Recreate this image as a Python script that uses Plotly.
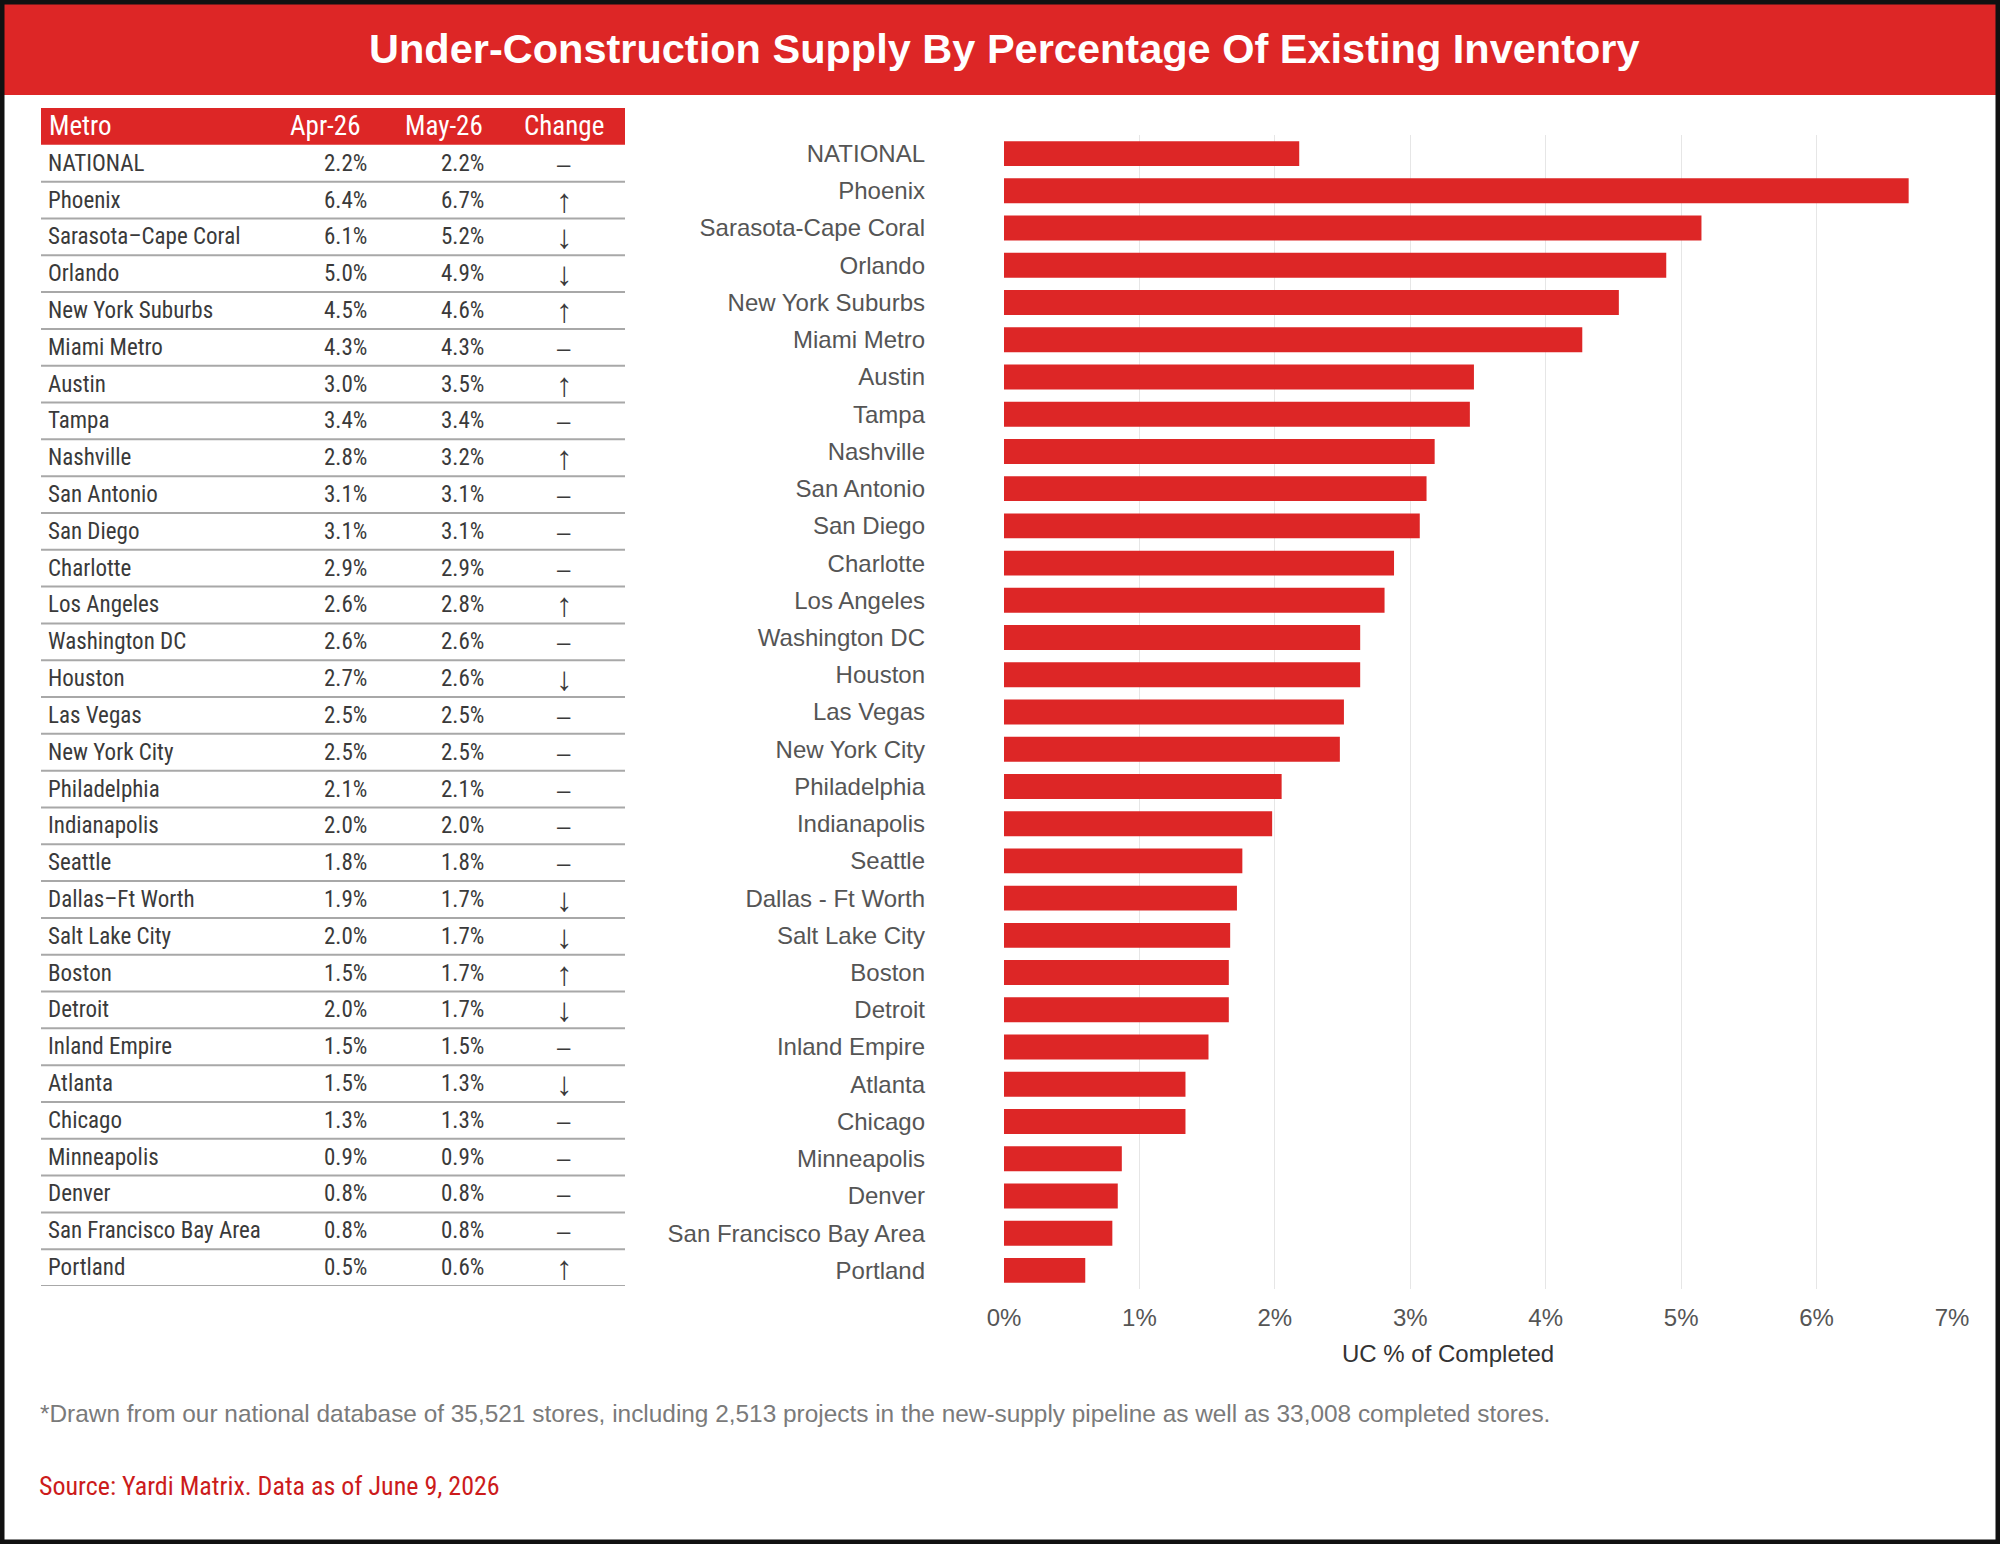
import plotly.graph_objects as go

W, H = 2000, 1544

# ---------------- data ----------------
table_metros = ["NATIONAL", "Phoenix", "Sarasota–Cape Coral", "Orlando", "New York Suburbs",
                "Miami Metro", "Austin", "Tampa", "Nashville", "San Antonio", "San Diego",
                "Charlotte", "Los Angeles", "Washington DC", "Houston", "Las Vegas",
                "New York City", "Philadelphia", "Indianapolis", "Seattle", "Dallas–Ft Worth",
                "Salt Lake City", "Boston", "Detroit", "Inland Empire", "Atlanta", "Chicago",
                "Minneapolis", "Denver", "San Francisco Bay Area", "Portland"]
apr_26 = ["2.2%", "6.4%", "6.1%", "5.0%", "4.5%", "4.3%", "3.0%", "3.4%", "2.8%", "3.1%",
          "3.1%", "2.9%", "2.6%", "2.6%", "2.7%", "2.5%", "2.5%", "2.1%", "2.0%", "1.8%",
          "1.9%", "2.0%", "1.5%", "2.0%", "1.5%", "1.5%", "1.3%", "0.9%", "0.8%", "0.8%", "0.5%"]
may_26 = ["2.2%", "6.7%", "5.2%", "4.9%", "4.6%", "4.3%", "3.5%", "3.4%", "3.2%", "3.1%",
          "3.1%", "2.9%", "2.8%", "2.6%", "2.6%", "2.5%", "2.5%", "2.1%", "2.0%", "1.8%",
          "1.7%", "1.7%", "1.7%", "1.7%", "1.5%", "1.3%", "1.3%", "0.9%", "0.8%", "0.8%", "0.6%"]
change = ["–", "↑", "↓", "↓", "↑", "–", "↑", "–", "↑", "–", "–", "–", "↑", "–", "↓", "–",
          "–", "–", "–", "–", "↓", "↓", "↑", "↓", "–", "↓", "–", "–", "–", "–", "↑"]
table_header = ["Metro", "Apr-26", "May-26", "Change"]

bar_labels = ["NATIONAL", "Phoenix", "Sarasota-Cape Coral", "Orlando", "New York Suburbs",
              "Miami Metro", "Austin", "Tampa", "Nashville", "San Antonio", "San Diego",
              "Charlotte", "Los Angeles", "Washington DC", "Houston", "Las Vegas",
              "New York City", "Philadelphia", "Indianapolis", "Seattle", "Dallas - Ft Worth",
              "Salt Lake City", "Boston", "Detroit", "Inland Empire", "Atlanta", "Chicago",
              "Minneapolis", "Denver", "San Francisco Bay Area", "Portland"]
bar_values = [2.18, 6.68, 5.15, 4.89, 4.54, 4.27, 3.47, 3.44, 3.18, 3.12, 3.07, 2.88, 2.81,
              2.63, 2.63, 2.51, 2.48, 2.05, 1.98, 1.76, 1.72, 1.67, 1.66, 1.66, 1.51, 1.34,
              1.34, 0.87, 0.84, 0.80, 0.60]
x_tick_vals = [0, 1, 2, 3, 4, 5, 6, 7]
x_tick_text = ["0%", "1%", "2%", "3%", "4%", "5%", "6%", "7%"]

title_text = "Under-Construction Supply By Percentage Of Existing Inventory"
x_title = "UC % of Completed"
footnote = ("*Drawn from our national database of 35,521 stores, including 2,513 projects "
            "in the new-supply pipeline as well as 33,008 completed stores.")
source = "Source: Yardi Matrix. Data as of June 9, 2026"

# ---------------- style ----------------
RED = "#dd2626"
SRC_RED = "#cc1b1b"
TXT = "#3a3a3a"
LBL = "#555555"
ARIAL = "Liberation Sans, Arial, sans-serif"
NARROW = ("Roboto Condensed, Noto Sans Condensed, Open Sans Condensed, "
          "DejaVu Sans Condensed, Liberation Sans Narrow, Roboto, sans-serif")


def px(x):
    return x / W


def py(y):
    return 1 - y / H


fig = go.Figure()

# ---------------- bar chart ----------------
fig.add_trace(go.Bar(
    x=bar_values, y=bar_labels, orientation="h",
    marker=dict(color=RED, line=dict(width=0)),
    hoverinfo="skip", showlegend=False, xaxis="x", yaxis="y",
))

# ---------------- table (annotations on its own axes) ----------------
n = len(table_metros)
fig.add_trace(go.Scatter(x=[41, 625], y=[-1.5, n - 0.5], mode="markers",
                         marker=dict(opacity=0, size=1), hoverinfo="skip", showlegend=False,
                         xaxis="x2", yaxis="y2"))

annotations = []
shapes = []

COL_METRO, COL_APR, COL_MAY, COL_CHG = 46, 369, 486, 564
HDR_APR, HDR_MAY = 325, 444

shapes.append(dict(type="rect", xref="x2", yref="y2", x0=41, x1=625, y0=-1.5, y1=-0.5,
                   fillcolor=RED, line=dict(width=0), layer="below"))
hdr_font = dict(family=NARROW, size=27, color="white")
annotations.append(dict(x=COL_METRO + 1, y=-1, xref="x2", yref="y2", text=table_header[0],
                        xanchor="left", yanchor="middle", showarrow=False, font=hdr_font))
annotations.append(dict(x=HDR_APR, y=-1, xref="x2", yref="y2", text=table_header[1],
                        xanchor="center", yanchor="middle", showarrow=False, font=hdr_font))
annotations.append(dict(x=HDR_MAY, y=-1, xref="x2", yref="y2", text=table_header[2],
                        xanchor="center", yanchor="middle", showarrow=False, font=hdr_font))
annotations.append(dict(x=COL_CHG, y=-1, xref="x2", yref="y2", text=table_header[3],
                        xanchor="center", yanchor="middle", showarrow=False, font=hdr_font))

cell_font = dict(family=NARROW, size=23, color=TXT)
for i in range(n):
    annotations.append(dict(x=COL_METRO, y=i, xref="x2", yref="y2", text=table_metros[i],
                            xanchor="left", yanchor="middle", showarrow=False, font=cell_font))
    annotations.append(dict(x=COL_APR, y=i, xref="x2", yref="y2", text=apr_26[i],
                            xanchor="right", yanchor="middle", showarrow=False, font=cell_font))
    annotations.append(dict(x=COL_MAY, y=i, xref="x2", yref="y2", text=may_26[i],
                            xanchor="right", yanchor="middle", showarrow=False, font=cell_font))
    is_arrow = change[i] != "–"
    annotations.append(dict(x=COL_CHG, y=i, xref="x2", yref="y2", text=change[i],
                            xanchor="center", yanchor="middle", showarrow=False,
                            font=dict(family=ARIAL, size=33 if is_arrow else 24, color=TXT)))
    shapes.append(dict(type="line", xref="x2", yref="y2", x0=41, x1=625, y0=i + 0.5,
                       y1=i + 0.5, line=dict(color="#a8a8a8", width=2)))

# ---------------- banner, title, border ----------------
shapes.insert(0, dict(type="rect", xref="paper", yref="paper", x0=0, x1=1, y0=py(95), y1=1,
                      fillcolor=RED, line=dict(width=0), layer="below"))
shapes.append(dict(type="rect", xref="paper", yref="paper", x0=0, x1=1, y0=0, y1=1,
                   fillcolor="rgba(0,0,0,0)", line=dict(color="#111111", width=9)))

annotations.append(dict(x=px(1004), y=py(48), xref="paper", yref="paper",
                        text=f"<b>{title_text}</b>",
                        xanchor="center", yanchor="middle", showarrow=False,
                        font=dict(family=ARIAL, size=41.5, color="white")))
annotations.append(dict(x=px(1448), y=py(1353), xref="paper", yref="paper", text=x_title,
                        xanchor="center", yanchor="middle", showarrow=False,
                        font=dict(family=ARIAL, size=24, color="#333333")))
annotations.append(dict(x=px(38), y=py(1413), xref="paper", yref="paper", text=footnote,
                        xanchor="left", yanchor="middle", showarrow=False,
                        font=dict(family=ARIAL, size=24.4, color="#7a7a7a")))
annotations.append(dict(x=px(37), y=py(1486), xref="paper", yref="paper", text=source,
                        xanchor="left", yanchor="middle", showarrow=False,
                        font=dict(family=NARROW, size=26, color=SRC_RED)))

fig.update_layout(
    width=W, height=H,
    margin=dict(l=0, r=0, t=0, b=0, pad=0, autoexpand=False),
    paper_bgcolor="white", plot_bgcolor="white",
    bargap=0.33,
    showlegend=False,
    xaxis=dict(domain=[px(1004), px(1952)], range=[0, 7], tickvals=x_tick_vals,
               ticktext=x_tick_text, showgrid=True, gridcolor="#e6e6e6", gridwidth=1,
               zeroline=False, showline=False, ticks="", ticklabelstandoff=12,
               automargin=False,
               tickfont=dict(family=ARIAL, size=24, color=LBL), anchor="y", fixedrange=True),
    yaxis=dict(domain=[py(1289), py(135)], categoryorder="array", categoryarray=bar_labels,
               autorange="reversed", showgrid=False, zeroline=False, showline=False,
               ticks="", ticklabelstandoff=78, automargin=False,
               tickfont=dict(family=ARIAL, size=24, color=LBL), anchor="x", fixedrange=True),
    xaxis2=dict(domain=[px(41), px(625)], range=[41, 625], autorange=False, visible=False,
                automargin=False, anchor="y2", fixedrange=True),
    yaxis2=dict(domain=[py(1286), py(108)], range=[n - 0.5, -1.5], autorange=False,
                automargin=False, visible=False, anchor="x2", fixedrange=True),
    annotations=annotations,
    shapes=shapes,
)

fig.write_html("out.html")
